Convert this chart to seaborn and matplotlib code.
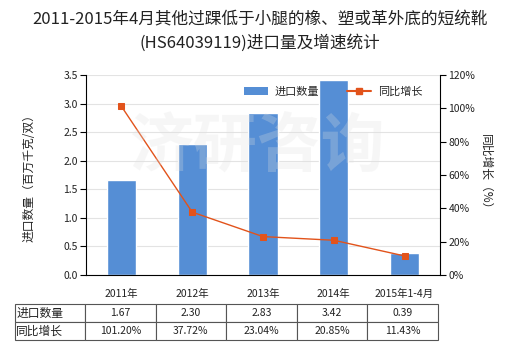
import matplotlib
matplotlib.use("Agg")
import matplotlib.pyplot as plt
import seaborn as sns
import pandas as pd
import numpy as np
from matplotlib.lines import Line2D
from matplotlib.patches import Patch

sns.set_theme(style="white")
plt.rcParams['font.family'] = ['Noto Sans CJK SC', 'DejaVu Sans']
plt.rcParams['axes.unicode_minus'] = False

categories = ["2011年", "2012年", "2013年", "2014年", "2015年1-4月"]
import_qty = [1.67, 2.30, 2.83, 3.42, 0.39]
growth = [101.20, 37.72, 23.04, 20.85, 11.43]
qty_labels = ["1.67", "2.30", "2.83", "3.42", "0.39"]
growth_labels = ["101.20%", "37.72%", "23.04%", "20.85%", "11.43%"]
title_lines = ["2011-2015年4月其他过踝低于小腿的橡、塑或革外底的短统靴", "(HS64039119)进口量及增速统计"]

bar_color = "#558ED5"
line_color = "#E2531B"
txt = "#222222"

fig = plt.figure(figsize=(5.2, 3.5), dpi=100)
ax = fig.add_axes([86/520, 1-275/350, 354/520, 200/350])

df = pd.DataFrame({"cat": categories, "qty": import_qty, "g": growth, "pos": np.arange(len(categories))})
sns.barplot(data=df, x="cat", y="qty", color=bar_color, width=0.41, ax=ax, saturation=1, zorder=2)

ax.set_ylim(0, 3.5)
ax.set_yticks(np.arange(0, 3.51, 0.5))
ax.set_yticklabels([f"{v:.1f}" for v in np.arange(0, 3.51, 0.5)], fontsize=7.5, color=txt)
ax.set_xlim(-0.5, 4.5)
ax.set_xticks(range(5))
ax.set_xticklabels(categories, fontsize=7.5, color=txt)
ax.set_xlabel("")
ax.set_ylabel("进口数量（百万千克/双）", fontsize=8.5, color=txt, labelpad=20)
ax.yaxis.grid(True, color="#e3e3e3", linewidth=0.8, zorder=0)
ax.set_axisbelow(True)
for s in ["top", "right"]:
    ax.spines[s].set_visible(False)
for s in ["left", "bottom"]:
    ax.spines[s].set_color("black")
    ax.spines[s].set_linewidth(0.8)
ax.tick_params(axis="y", which="both", left=True, length=4, width=0.8, color="black", pad=2)
ax.tick_params(axis="x", bottom=False, pad=4)

ax2 = ax.twinx()
sns.lineplot(data=df, x="pos", y="g", ax=ax2, color=line_color, linewidth=1.0,
             marker="s", markersize=5, markeredgecolor=line_color, zorder=4)
ax2.set_ylim(0, 120)
ax2.set_yticks(np.arange(0, 121, 20))
ax2.set_yticklabels([f"{v}%" for v in range(0, 121, 20)], fontsize=7.5, color=txt)
ax2.set_ylabel("同比增长（%）", fontsize=8.5, color=txt, rotation=270, labelpad=12)
for s in ["top", "left", "bottom"]:
    ax2.spines[s].set_visible(False)
ax2.spines["right"].set_color("black")
ax2.spines["right"].set_linewidth(0.8)
ax2.tick_params(axis="y", right=True, length=4, width=0.8, color="black", pad=2)
ax2.set_xlabel("")
ax2.set_xlim(-0.5, 4.5)

# watermark
fig.text(258/520, 1-147/350, "济研咨询", fontsize=46, fontweight="bold", color="#e0e0e0",
         alpha=0.26, ha="center", va="center", zorder=10)

# legend
handles = [Patch(facecolor=bar_color, edgecolor="none"),
           Line2D([0], [0], color=line_color, marker="s", markersize=4, linewidth=1.5)]
fig.legend(handles, ["进口数量", "同比增长"], loc="center", bbox_to_anchor=(333/520, 1-92/350),
           ncol=2, frameon=False, fontsize=8, handlelength=2.2, columnspacing=2.5, handletextpad=0.6)

fig.text(0.5, 1-20/350, title_lines[0], fontsize=12, color=txt, ha="center", va="center")
fig.text(0.5, 1-43/350, title_lines[1], fontsize=12, color=txt, ha="center", va="center")

# table
cell_text = [["进口数量"] + qty_labels, ["同比增长"] + growth_labels]
col_w = [70/354] + [70.6/354] * 5
tbl = ax.table(cellText=cell_text, colWidths=col_w, cellLoc="center",
               bbox=[(15-86)/354, -(340-275)/200, (438-15)/354, (340-304)/200])
tbl.auto_set_font_size(False)
tbl.set_fontsize(7.5)
for (r, c), cell in tbl.get_celld().items():
    cell.set_edgecolor("#555555")
    cell.set_linewidth(0.8)
    cell.get_text().set_color(txt)
    if c == 0:
        cell.get_text().set_ha("left")
        cell.get_text().set_fontsize(8.5)
        cell.PAD = 0.02

fig.savefig("out.png", dpi=100)
